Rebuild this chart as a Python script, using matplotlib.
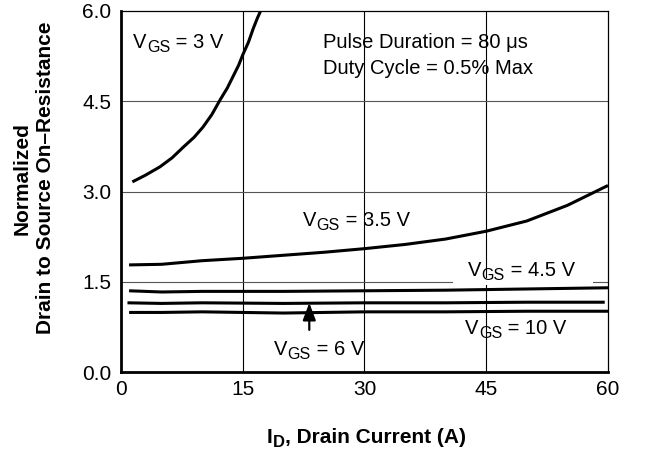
import matplotlib
matplotlib.use("Agg")
import matplotlib.pyplot as plt
from matplotlib.patches import Rectangle

plt.rcParams['font.family'] = ['Liberation Sans', 'DejaVu Sans']

# Data
x_3v = [1.4, 3, 4.8, 6.3, 7.7, 9, 10.1, 11.2, 12.2, 13.1, 13.8, 14.5, 15.0, 15.7, 16.3, 16.8, 17.2]
y_3v = [3.16, 3.27, 3.41, 3.56, 3.74, 3.9, 4.07, 4.28, 4.52, 4.72, 4.91, 5.1, 5.27, 5.48, 5.71, 5.88, 6.0]

x_35v = [1, 5, 10, 15, 20, 25, 30, 35, 40, 45, 50, 55, 60]
y_35v = [1.78, 1.79, 1.85, 1.89, 1.94, 1.99, 2.05, 2.12, 2.21, 2.34, 2.51, 2.77, 3.1]

x_45v = [1, 5, 10, 20, 30, 40, 50, 60]
y_45v = [1.35, 1.33, 1.34, 1.34, 1.35, 1.36, 1.38, 1.40]

x_6v = [0.8, 5, 10, 20, 30, 40, 50, 59.6]
y_6v = [1.15, 1.14, 1.15, 1.14, 1.15, 1.15, 1.16, 1.16]

x_10v = [1, 5, 10, 20, 30, 40, 50, 60]
y_10v = [0.99, 0.99, 1.0, 0.98, 1.0, 1.0, 1.01, 1.01]

x_ticks = [0, 15, 30, 45, 60]
y_ticks = [0.0, 1.5, 3.0, 4.5, 6.0]
y_tick_labels = ['0.0', '1.5', '3.0', '4.5', '6.0']

fig = plt.figure(figsize=(6.49, 4.66), dpi=100)
ax = fig.add_axes([0.1864, 0.2017, 0.7504, 0.7747])
ax.set_xlim(0, 60)
ax.set_ylim(0, 6)

# grid
for xv in x_ticks[1:-1]:
    ax.axvline(xv, color='black', lw=0.8, zorder=1)
for yv in y_ticks[1:-1]:
    ax.axhline(yv, color='#555555', lw=0.8, zorder=1)

lw = 2.2
for xs, ys in [(x_3v, y_3v), (x_35v, y_35v), (x_45v, y_45v), (x_6v, y_6v), (x_10v, y_10v)]:
    ax.plot(xs, ys, color='black', lw=lw, solid_capstyle='butt', solid_joinstyle='round', zorder=3)

fs = 14.5
sub = 0.8


def label(x, y, parts, size=fs, weight='normal', coords=None, zorder=3):
    coords = ax.transData if coords is None else coords
    t = ax.text(x, y, parts[0][0], transform=coords, fontsize=size, va='center', ha='left',
                fontweight=weight, zorder=zorder)
    prev_sub = False
    for txt, is_sub in parts[1:]:
        if is_sub and not prev_sub:
            dy = -2.2
        elif prev_sub and not is_sub:
            dy = 2.2
        else:
            dy = 0
        t = ax.annotate(txt, xy=(1, 0), xycoords=t, xytext=(0.3 if is_sub else 0, dy),
                        textcoords='offset points', fontsize=size * (sub if is_sub else 1.0),
                        va='bottom', ha='left', fontweight=weight, zorder=zorder,
                        annotation_clip=False)
        prev_sub = is_sub
    return t


def vgs(x, y, val):
    label(x, y, [('V', False), ('GS', True), (' = ' + val, False)])


vgs(1.5, 5.48, '3 V')
ax.text(24.9, 5.48, 'Pulse Duration = 80 μs', fontsize=fs, va='center', ha='left')
ax.text(24.9, 5.04, 'Duty Cycle = 0.5% Max', fontsize=fs, va='center', ha='left')
vgs(22.4, 2.52, '3.5 V')
ax.add_patch(Rectangle((40.9, 1.44), 17.2, 0.12, facecolor='white', edgecolor='none', zorder=2))
vgs(42.7, 1.69, '4.5 V')
vgs(42.4, 0.73, '10 V')
vgs(18.8, 0.37, '6 V')

ax.annotate('', xy=(23.2, 1.15), xytext=(23.2, 0.70),
            arrowprops=dict(arrowstyle='-|>,head_length=0.8,head_width=0.3', color='black',
                            lw=1.6, mutation_scale=13, shrinkA=0, shrinkB=0), zorder=4)

ax.set_xticks(x_ticks)
ax.set_yticks(y_ticks)
ax.set_yticklabels(y_tick_labels)
ax.tick_params(length=0, labelsize=15)
ax.tick_params(axis='y', pad=7)
ax.tick_params(axis='x', pad=6)

for s in ['left', 'bottom']:
    ax.spines[s].set_linewidth(2.0)
for s in ['top', 'right']:
    ax.spines[s].set_linewidth(0.9)

ax.set_ylabel('Normalized\nDrain to Source On–Resistance', fontsize=15, fontweight='bold',
              linespacing=1.3)
ax.yaxis.set_label_coords(-0.136, 0.537)

# x axis label with real subscript
label(267 / 649, 0.062, [('I', False), ('D', True), (', Drain Current (A)', False)],
      size=15, weight='bold', coords=fig.transFigure)

fig.savefig('out.png', dpi=100)
